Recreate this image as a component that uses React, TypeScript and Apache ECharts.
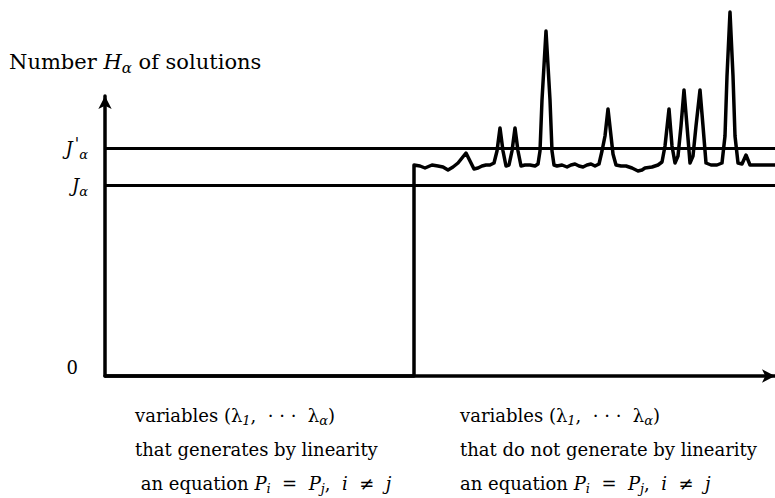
import React, { useEffect, useRef } from "react";
import * as echarts from "echarts";

// x: horizontal position along the variable axis, y: number of solutions (arbitrary units)
const lineX = [0, 309, 309, 315, 320, 327, 333, 338, 343, 348, 353, 357, 361, 365, 369, 373, 377, 381, 385, 389, 392, 395, 398, 401, 404, 407, 410, 413, 416, 420, 425, 430, 433, 435, 437, 441, 445, 447, 449, 452, 457, 462, 466, 470, 474, 478, 482, 486, 490, 494, 497, 500, 503, 506, 508, 511, 516, 521, 527, 533, 537, 540, 547, 553, 557, 560, 564, 567, 570, 573, 576, 579, 582, 585, 588, 591, 595, 598, 601, 606, 612, 617, 620, 622, 625, 628, 630, 633, 637, 641, 645, 652, 660, 670];
const lineY = [0, 0, 211, 210, 208, 211, 210, 209, 206, 209, 213, 218, 223, 215, 207, 208, 210, 211, 211, 213, 225, 248, 225, 210, 211, 225, 248, 225, 210, 211, 211, 210, 212, 225, 276, 345, 276, 225, 211, 210, 211, 209, 211, 212, 210, 209, 211, 212, 210, 212, 225, 240, 267, 240, 222, 211, 210, 210, 208, 205, 206, 208, 209, 211, 214, 230, 267, 230, 213, 220, 250, 286, 250, 213, 220, 250, 286, 250, 213, 211, 211, 213, 240, 300, 364, 300, 240, 213, 212, 221, 211, 211, 211, 211];
const J = 190.5;
const Jprime = 228;
const xMax = 670;
const yMax = 280;

const yLabels: Record<string, string> = {
  J: "{i|J}{s|α}",
  Jp: "{i|J}{p|'}{s|α}",
};
const titleText = "{t|Number }{i|H}{s|α}{t| of solutions}";
const leftLines = [
  "{t|variables (λ}{s|1}{t|,  · · ·  λ}{s|α}{t|)}",
  "{t|that generates by linearity}",
  "{t| an equation }{i|P}{s|i}{t|  =  }{i|P}{s|j}{t|,  }{i|i}{t|  ≠  }{i|j}",
];
const rightLines = [
  "{t|variables (λ}{s|1}{t|,  · · ·  λ}{s|α}{t|)}",
  "{t|that do not generate by linearity}",
  "{t|an equation }{i|P}{s|i}{t|  =  }{i|P}{s|j}{t|,  }{i|i}{t|  ≠  }{i|j}",
];

const FONT = '"DejaVu Serif", "Liberation Serif", serif';

function rich(size: number) {
  const sub = Math.round(size * 0.7);
  return {
    t: { fontSize: size, fontFamily: FONT, color: "#000", lineHeight: size + 6 },
    i: { fontSize: size, fontFamily: FONT, fontStyle: "italic", color: "#000", lineHeight: size + 6 },
    s: { fontSize: sub, fontFamily: FONT, fontStyle: "italic", color: "#000", lineHeight: sub, verticalAlign: "bottom" },
    p: { fontSize: size - 2, fontFamily: FONT, fontStyle: "italic", color: "#000", lineHeight: size + 8, verticalAlign: "top", padding: [0, 0, 0, 2] },
  };
}

export default function App() {
  const ref = useRef<HTMLDivElement>(null);
  useEffect(() => {
    if (!ref.current) return;
    const chart = echarts.init(ref.current, undefined, { renderer: "svg" });
    const data = lineX.map((x, i) => [x, lineY[i]]);
    const textBlocks: any[] = [];
    const ys = [415, 449, 483];
    leftLines.forEach((t, i) =>
      textBlocks.push({
        type: "text",
        x: 135,
        y: ys[i],
        style: { text: t, rich: rich(18), verticalAlign: "middle", align: "left" },
      })
    );
    rightLines.forEach((t, i) =>
      textBlocks.push({
        type: "text",
        x: 460,
        y: ys[i],
        style: { text: t, rich: rich(18), verticalAlign: "middle", align: "left" },
      })
    );
    chart.setOption({
      animation: false,
      backgroundColor: "#fff",
      grid: { left: 105, right: 0, top: 96, bottom: 122 },
      xAxis: {
        type: "value",
        min: 0,
        max: xMax,
        axisLine: {
          show: true,
          symbol: ["none", "arrow"],
          symbolSize: [10, 13],
          lineStyle: { color: "#000", width: 3.5 },
        },
        axisTick: { show: false },
        axisLabel: { show: false },
        splitLine: { show: false },
      },
      yAxis: {
        type: "value",
        min: 0,
        max: yMax,
        interval: yMax,
        axisLine: {
          show: true,
          symbol: ["none", "arrow"],
          symbolSize: [10, 13],
          lineStyle: { color: "#000", width: 3.5 },
        },
        axisTick: { show: false },
        splitLine: { show: false },
        axisLabel: {
          formatter: (v: number) => (v === 0 ? "0" : ""),
          margin: 27,
          fontSize: 18,
          fontFamily: FONT,
          color: "#000",
          verticalAlign: "bottom",
        },
      },
      series: [
        {
          type: "line",
          data,
          symbol: "none",
          showSymbol: false,
          clip: false,
          lineStyle: { color: "#000", width: 3.5, join: "round" },
          markLine: {
            silent: true,
            symbol: ["none", "none"],
            lineStyle: { color: "#000", width: 3, type: "solid" },
            label: {
              position: "start",
              distance: 17,
              formatter: (p: any) => yLabels[p.name],
              rich: rich(18),
            },
            data: [
              { yAxis: J, name: "J" },
              { yAxis: Jprime, name: "Jp" },
            ],
          },
        },
      ],
      graphic: [
        {
          type: "text",
          x: 9,
          y: 62,
          style: { text: titleText, rich: rich(21), verticalAlign: "middle", align: "left" },
        },
        ...textBlocks,
      ],
    });
    return () => chart.dispose();
  }, []);
  return (
    <div
      ref={ref}
      style={{ position: "fixed", left: 0, top: 0, width: 775, height: 498, background: "#fff" }}
    />
  );
}
